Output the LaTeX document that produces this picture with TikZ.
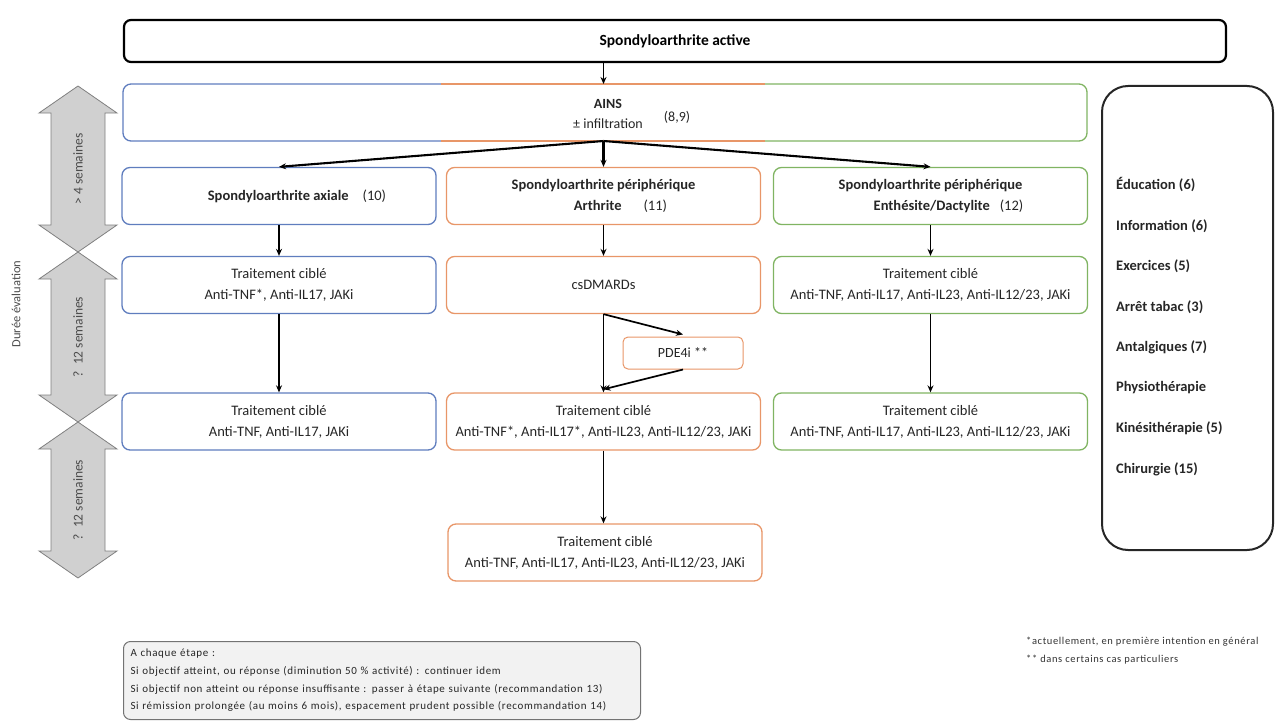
\documentclass[tikz,border=0pt]{standalone}
\usepackage{fontspec}
\setmainfont{Carlito}
\newfontfamily\spacedfont{Carlito}[LetterSpace=6]
\usetikzlibrary{arrows.meta}
\definecolor{cblue}{RGB}{95,125,190}
\definecolor{corange}{RGB}{232,150,104}
\definecolor{cgreen}{RGB}{128,180,98}
\definecolor{cgreyfill}{RGB}{208,208,208}
\definecolor{cnote}{RGB}{242,242,242}
\newcommand{\dblarrow}[4]{%
  \draw[darr] (78,#1) -- (117,{#1+27}) -- (105,{#1+27}) -- (105,{#2-27}) -- (117,{#2-27})
    -- (78,#2) -- (39,{#2-27}) -- (51,{#2-27}) -- (51,{#1+27}) -- (39,{#1+27}) -- cycle;
  \node[darrlabel] (#4) at (78,{(#1+#2)/2}) {#3};}
\begin{document}
\begin{tikzpicture}[x=1pt,y=-1pt,
  box/.style={draw, rounded corners=8pt, line width=1.3pt, minimum width=314pt, minimum height=57pt,
    align=center, fill=white, text=black!85, font=\fontsize{14.5}{21}\selectfont, inner sep=2pt},
  bbox/.style={box, draw=cblue},
  obox/.style={box, draw=corange},
  gbox/.style={box, draw=cgreen},
  arr/.style={draw=black, line width=1.7pt, -{Stealth[length=7pt,width=6pt]}},
  darr/.style={draw=black!50, fill=cgreyfill, line width=0.8pt},
  darrlabel/.style={rotate=90, text=black!70, font=\fontsize{13.5}{15}\selectfont},
  item/.style={anchor=west, font=\bfseries\fontsize{14.5}{17}\selectfont, text=black!85, inner sep=0pt}
]
\useasboundingbox (0,0) rectangle (1280,725);

% title
\node[draw=black, line width=2.2pt, rounded corners=7pt, minimum width=1102pt, minimum height=42pt,
  font=\bfseries\fontsize{15.5}{18}\selectfont] (title) at (675,41) {Spondyloarthrite active};

% AINS tri-coloured box
\draw[cblue, line width=1.3pt, rounded corners=8pt] (441,84) -- (123,84) -- (123,141) -- (441,141);
\draw[corange, line width=1.3pt] (441,84) -- (765,84) (441,141) -- (765,141);
\draw[cgreen, line width=1.3pt, rounded corners=8pt] (765,84) -- (1087,84) -- (1087,141) -- (765,141);
\node[align=center, text=black!85, font=\fontsize{14}{20}\selectfont] (ains) at (608,114) {\textbf{AINS}\\± infiltration};
\node[text=black!85, font=\fontsize{14}{16}\selectfont] (ainsref) at (677,117) {(8,9)};
\coordinate (ainsT) at (603.5,84);
\coordinate (ainsB) at (603.5,141);

% row 1
\node[bbox] (ax) at (279,196) {\hspace*{36pt}\textbf{Spondyloarthrite axiale}\hspace{14pt}(10)};
\node[obox] (art) at (603.5,196) {\textbf{Spondyloarthrite périphérique}\\\hspace*{34pt}\textbf{Arthrite}\hspace{22pt}(11)};
\node[gbox] (ent) at (930.5,196) {\textbf{Spondyloarthrite périphérique}\\\hspace*{36pt}\textbf{Enthésite/Dactylite}\hspace{10pt}(12)};

% row 2
\node[bbox] (tl1) at (279,285) {Traitement ciblé\\Anti-TNF*, Anti-IL17, JAKi};
\node[obox] (csd) at (603.5,285) {csDMARDs};
\node[gbox] (tr1) at (930.5,285) {Traitement ciblé\\Anti-TNF, Anti-IL17, Anti-IL23, Anti-IL12/23, JAKi};

% PDE4i
\node[draw=corange, line width=1pt, rounded corners=5pt, minimum width=120pt, minimum height=32pt,
  fill=white, text=black!85, font=\fontsize{14}{16}\selectfont] (pde) at (683,353) {PDE4i **};

% row 3
\node[bbox] (tl2) at (279,421.5) {Traitement ciblé\\Anti-TNF, Anti-IL17, JAKi};
\node[obox] (tc2) at (603.5,421.5) {Traitement ciblé\\Anti-TNF*, Anti-IL17*, Anti-IL23, Anti-IL12/23, JAKi};
\node[gbox] (tr2) at (930.5,421.5) {Traitement ciblé\\Anti-TNF, Anti-IL17, Anti-IL23, Anti-IL12/23, JAKi};

% row 4
\node[obox] (tc3) at (605,552.5) {Traitement ciblé\\Anti-TNF, Anti-IL17, Anti-IL23, Anti-IL12/23, JAKi};

% connectors
\draw[arr] (title.south -| ainsT) -- (ainsT);
\draw[arr, line width=2.1pt] (ainsB) -- (ax.north);
\draw[arr, line width=2.1pt] (ainsB) -- (art.north);
\draw[arr, line width=2.1pt] (ainsB) -- (ent.north);
\draw[arr] (ax) -- (tl1);
\draw[arr] (art) -- (csd);
\draw[arr] (ent) -- (tr1);
\draw[arr] (tl1) -- (tl2);
\draw[arr] (tr1) -- (tr2);
\draw[arr] (csd.south) -- (tc2.north);
\draw[arr] (csd.south) -- ([yshift=2pt]pde.north);
\draw[arr] (pde.south) -- ([yshift=3pt]tc2.north);
\draw[arr] (tc2.south) -- (tc2.south |- tc3.north);

% side panel
\node[draw=black!85, line width=2pt, rounded corners=26pt, minimum width=171pt, minimum height=464pt] (side) at (1187.5,318) {};
\node[item] (i1) at (1116,185) {Éducation (6)};
\node[item] (i2) at (1116,226) {Information (6)};
\node[item] (i3) at (1116,266) {Exercices (5)};
\node[item] (i4) at (1116,307) {Arrêt tabac (3)};
\node[item] (i5) at (1116,347) {Antalgiques (7)};
\node[item] (i6) at (1116,388) {Physiothérapie};
\node[item] (i7) at (1116,428) {Kinésithérapie (5)};
\node[item] (i8) at (1116,469) {Chirurgie (15)};

% duration arrows
\dblarrow{86}{252}{> 4 semaines}{d1}
\dblarrow{252}{422}{?\ \ 12 semaines}{d2}
\dblarrow{422}{578}{?\ \ 12 semaines}{d3}
\node[rotate=90, text=black!70, font=\fontsize{12.5}{14}\selectfont] (duree) at (16,304) {Durée évaluation};

% note box
\node[draw=black!55, fill=cnote, line width=1pt, rounded corners=7pt, anchor=north west,
  minimum width=517pt, minimum height=78pt, text width=503pt, align=left, inner sep=7pt,
  text=black!85, font=\spacedfont\fontsize{11}{17.7}\selectfont] (note) at (123,641)
  {A chaque étape :\\
   Si objectif atteint, ou réponse (diminution 50 \% activité) : continuer idem\\
   Si objectif non atteint ou réponse insuffisante : passer à étape suivante (recommandation 13)\\
   Si rémission prolongée (au moins 6 mois), espacement prudent possible (recommandation 14)};

% footnotes
\node[anchor=west, align=left, text=black!80, font=\spacedfont\fontsize{10.5}{18}\selectfont, inner sep=0pt] (fn) at (1026,651)
  {*actuellement, en première intention en général\\** dans certains cas particuliers};
\end{tikzpicture}
\end{document}
